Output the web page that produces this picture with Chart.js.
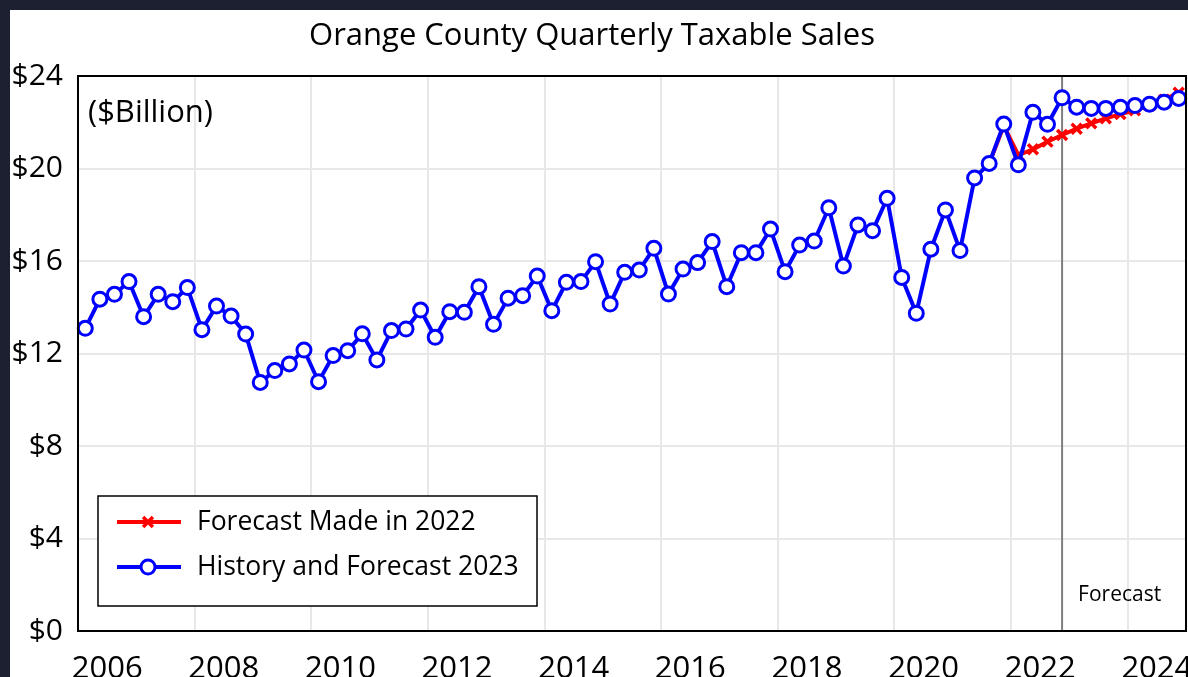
<!DOCTYPE html>
<html lang="en">
<head>
    <meta charset="UTF-8">
    <title>Orange County Quarterly Taxable Sales</title>
    <script src="https://cdn.jsdelivr.net/npm/chart.js"></script>
    <style>
        body { margin: 0; background: #1d2030; }
        #wrap { position: absolute; left: 10px; top: 10px; width: 1178px; height: 667px; background: #fff; }
    </style>
</head>
<body>
    <div id="wrap">
        <canvas id="salesChart" width="1178" height="667"></canvas>
    </div>

    <script>
// Quarterly taxable sales, $ billions (one value per quarter, 76 quarters)
const history2023 = [
    13.09, 14.35, 14.56, 15.11, 13.59, 14.56, 14.24, 14.85,
    13.03, 14.05, 13.62, 12.84, 10.75, 11.26, 11.55, 12.15,
    10.78, 11.91, 12.12, 12.85, 11.72, 12.99, 13.06, 13.88,
    12.70, 13.81, 13.78, 14.89, 13.26, 14.39, 14.50, 15.35,
    13.85, 15.08, 15.11, 15.97, 14.14, 15.51, 15.61, 16.55,
    14.57, 15.65, 15.93, 16.84, 14.89, 16.36, 16.36, 17.38,
    15.54, 16.69, 16.86, 18.30, 15.78, 17.56, 17.31, 18.71,
    15.29, 13.74, 16.51, 18.21, 16.45, 19.59, 20.22, 21.92,
    20.16, 22.43, 21.91, 23.06, 22.65, 22.60, 22.60, 22.65,
    22.72, 22.78, 22.87, 23.03
];

// 2022 forecast, only known from quarter 62 on
const forecast2022 = [
    null, null, null, null, null, null, null, null,
    null, null, null, null, null, null, null, null,
    null, null, null, null, null, null, null, null,
    null, null, null, null, null, null, null, null,
    null, null, null, null, null, null, null, null,
    null, null, null, null, null, null, null, null,
    null, null, null, null, null, null, null, null,
    null, null, null, null, null, null, 20.22, 21.85,
    20.58, 20.83, 21.16, 21.45, 21.72, 21.95, 22.17, 22.35,
    22.52, 22.72, 22.98, 23.28
];

const yearLabels = ['2006', '2008', '2010', '2012', '2014', '2016', '2018', '2020', '2022', '2024'];
const yTicks = [0, 4, 8, 12, 16, 20, 24];
const forecastStart = 67;   // quarter where the forecast line sits

const FONT = '"Open Sans", "Liberation Sans", sans-serif';
const nQuarters = history2023.length;

function toPoints(arr) {
    return arr.map((v, i) => ({ x: i, y: v }));
}

// Title, frame, unit note, forecast line and legend
const decor = {
    id: 'decor',
    beforeDatasetsDraw(chart) {
        const { ctx, chartArea, scales } = chart;
        const xp = scales.x.getPixelForValue(forecastStart);
        ctx.save();
        ctx.strokeStyle = '#7f7f7f';
        ctx.lineWidth = 2;
        ctx.beginPath();
        ctx.moveTo(xp, chartArea.top);
        ctx.lineTo(xp, chartArea.bottom);
        ctx.stroke();
        ctx.fillStyle = '#000';
        ctx.font = '21px ' + FONT;
        ctx.textAlign = 'left';
        ctx.textBaseline = 'middle';
        ctx.fillText('Forecast', xp + 16, chartArea.bottom - 36);
        ctx.restore();
    },
    afterDraw(chart) {
        const { ctx, chartArea } = chart;
        ctx.save();

        // plot frame
        ctx.strokeStyle = '#000';
        ctx.lineWidth = 2;
        ctx.strokeRect(chartArea.left, chartArea.top, chartArea.right - chartArea.left, chartArea.bottom - chartArea.top);

        // title
        ctx.fillStyle = '#000';
        ctx.font = '31px ' + FONT;
        ctx.textAlign = 'center';
        ctx.textBaseline = 'alphabetic';
        ctx.fillText('Orange County Quarterly Taxable Sales', 582, 35);

        // unit note
        ctx.font = '31px ' + FONT;
        ctx.textAlign = 'left';
        ctx.textBaseline = 'middle';
        ctx.fillText('($Billion)', chartArea.left + 10, chartArea.top + 37);

        // legend box
        const bx = chartArea.left + 20, bw = 439, bh = 110;
        const by = chartArea.bottom - 25 - bh;
        ctx.fillStyle = '#fff';
        ctx.fillRect(bx, by, bw, bh);
        ctx.strokeStyle = '#000';
        ctx.lineWidth = 1.5;
        ctx.strokeRect(bx, by, bw, bh);

        ctx.font = '26.5px ' + FONT;
        ctx.textBaseline = 'middle';
        chart.data.datasets.forEach((ds, k) => {
            const ry = by + 26 + k * 45;
            ctx.strokeStyle = ds.borderColor;
            ctx.lineWidth = ds.borderWidth;
            ctx.beginPath();
            ctx.moveTo(bx + 19, ry);
            ctx.lineTo(bx + 83, ry);
            ctx.stroke();
            const mx = bx + 50;
            ctx.lineWidth = ds.pointBorderWidth;
            ctx.strokeStyle = ds.pointBorderColor;
            if (ds.pointStyle === 'crossRot') {
                const r = ds.pointRadius;
                ctx.beginPath();
                ctx.moveTo(mx - r * 0.7, ry - r * 0.7); ctx.lineTo(mx + r * 0.7, ry + r * 0.7);
                ctx.moveTo(mx + r * 0.7, ry - r * 0.7); ctx.lineTo(mx - r * 0.7, ry + r * 0.7);
                ctx.stroke();
            } else {
                ctx.fillStyle = ds.pointBackgroundColor;
                ctx.beginPath();
                ctx.arc(mx, ry, ds.pointRadius, 0, Math.PI * 2);
                ctx.fill();
                ctx.stroke();
            }
            ctx.fillStyle = '#000';
            ctx.fillText(ds.label, bx + 99, ry);
        });
        ctx.restore();
    }
};

new Chart(document.getElementById('salesChart'), {
    type: 'line',
    data: {
        datasets: [
            {
                label: 'Forecast Made in 2022',
                data: toPoints(forecast2022),
                borderColor: '#ff0000',
                borderWidth: 4,
                pointStyle: 'crossRot',
                pointRadius: 7,
                pointBorderWidth: 3.5,
                pointBorderColor: '#ff0000',
                pointBackgroundColor: '#ff0000',
                order: 1,
                clip: false
            },
            {
                label: 'History and Forecast 2023',
                data: toPoints(history2023),
                borderColor: '#0000ff',
                borderWidth: 4,
                pointStyle: 'circle',
                pointRadius: 7,
                pointBorderWidth: 3,
                pointBorderColor: '#0000ff',
                pointBackgroundColor: '#ffffff',
                order: 0,
                clip: false
            }
        ]
    },
    options: {
        responsive: false,
        animation: false,
        // no auto padding for the point radius, the plot runs to the page edge
        layout: { autoPadding: false, padding: { top: 66, right: 2, left: 0, bottom: 0 } },
        plugins: {
            legend: { display: false },
            title: { display: false },
            tooltip: { enabled: false }
        },
        scales: {
            x: {
                type: 'linear',
                min: -0.5,
                max: nQuarters - 0.5,
                grid: { display: false },
                border: { display: false },
                afterBuildTicks: scale => {
                    scale.ticks = yearLabels.map((l, k) => ({ value: 1.5 + 8 * k }));
                },
                afterFit: scale => {
                    scale.height = 46;
                    // last label runs off the page in the original too
                    scale.paddingLeft = 0;
                    scale.paddingRight = 0;
                },
                ticks: {
                    autoSkip: false,
                    maxRotation: 0,
                    padding: 12,
                    color: '#000',
                    font: { family: FONT, size: 31 },
                    callback: (v, i) => yearLabels[i]
                }
            },
            xGrid: {
                type: 'linear',
                position: 'bottom',
                min: -0.5,
                max: nQuarters - 0.5,
                border: { display: false },
                grid: { color: '#e8e8e8', lineWidth: 2, drawTicks: false },
                afterBuildTicks: scale => {
                    const t = [];
                    for (let v = 7.5; v < nQuarters - 1; v += 8) t.push({ value: v });
                    scale.ticks = t;
                },
                afterFit: scale => { scale.height = 0; },
                ticks: { display: false }
            },
            y: {
                min: 0,
                max: 24,
                border: { display: false },
                grid: { color: '#e8e8e8', lineWidth: 2, drawTicks: false },
                afterBuildTicks: scale => {
                    scale.ticks = yTicks.map(v => ({ value: v }));
                },
                afterFit: scale => { scale.width = 68; },
                ticks: {
                    padding: 15,
                    color: '#000',
                    font: { family: FONT, size: 30 },
                    callback: v => '$' + v
                }
            }
        }
    },
    plugins: [decor]
});
    </script>
</body>
</html>
